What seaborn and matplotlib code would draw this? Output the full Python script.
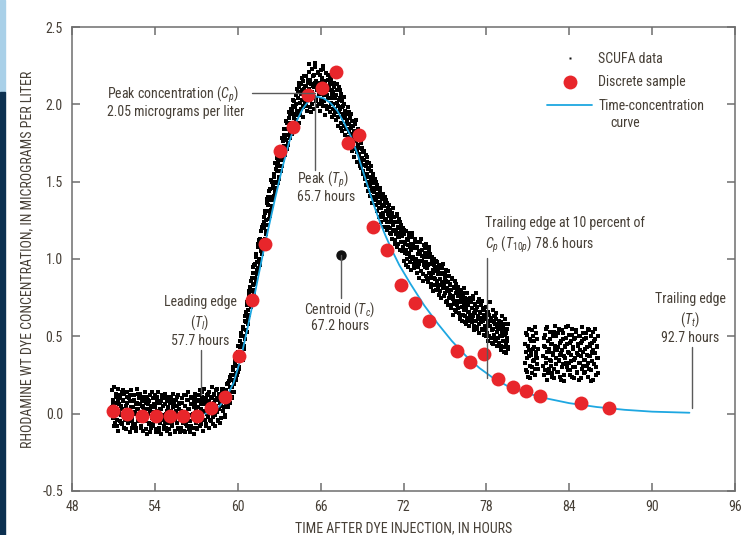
import numpy as np
import pandas as pd
import matplotlib
matplotlib.use("Agg")
import matplotlib.pyplot as plt
from matplotlib import font_manager
from matplotlib.patches import Rectangle
from matplotlib.lines import Line2D
import seaborn as sns

# ---------------- data ----------------
# SCUFA continuous record, concentrations in hundredths of ug/L, regular 0.05-h sampling,
# two interleaved readings (a and b, offset by 0.025 h)
scufa_step = 0.05
scufa_start_1a = 50.90
scufa_vals_1a = [
    15, -3, 6, 17, -6, 3, 11, -8, 8, 16, 0, 12, -5, 5, 14, -7, 9, 2, 13, -4,
    -10, 7, 14, 1, -4, 10, -12, 4, 15, -2, 8, -7, 12, 0, -9, 6, 16, -5, 3, 10,
    -1, 13, -8, 5, 9, -11, 2, 14, -5, 7, -13, 11, 0, -6, 8, 12, -9, 4, -2, 10,
    -7, 6, 12, -12, 1, 9, -4, 14, -9, 3, 7, -13, 10, -2, 5, -10, 13, -6, 0, 8,
    -11, 4, -5, 11, -13, 2, 8, -8, 13, -3, 6, -12, 0, 9, -6, 12, -10, 3, -1, 7,
    -9, 10, -4, 1, 12, -12, 5, -7, 9, -2, 14, -10, 3, -5, 11, -8, 6, 0, -13, 8,
    13, -6, 4, -10, 9, 1, -3, 15, -8, 6, 11, -11, 2, 16, -4, 8, -7, 12, 0, 5,
    -9, 14, 3, -5, 10, 17, -2, 7, 12, -8, 4, 15, 1, -4, 9, 13, -6, 11, 5, 16,
    2, 16, 8, -2, 14, 5, 19, 10, 4, 21, 13, 7, 25, 17, 11, 28, 20, 14, 33, 26,
    22, 38, 27, 44, 30, 47, 36, 52, 40, 35, 55, 44, 60, 48, 66, 53, 72, 58, 77, 64,
    82, 69, 88, 74, 95, 80, 78, 97, 86, 103, 90, 108, 94, 112, 99, 105, 118, 103, 122, 110,
    127, 113, 131, 118, 136, 122, 140, 126, 128, 145, 132, 150, 134, 148, 141, 155, 143, 158, 146, 161,
    149, 165, 153, 168, 157, 172, 160, 176, 164, 180, 178, 167, 184, 171, 188, 175, 191, 178, 194, 181,
    196, 181, 199, 184, 202, 187, 206, 190, 193, 208, 188, 211, 195, 213, 197, 209, 192, 215, 199, 212,
    201, 218, 196, 214, 203, 221, 198, 216, 206, 223, 200, 212, 219, 197, 224, 204, 215, 199, 220, 207,
    214, 196, 222, 203, 217, 199, 225, 206, 193, 215, 210, 197, 219, 204, 212, 195, 218, 201, 209, 192,
    208, 193, 214, 197, 190, 209, 201, 186, 211, 195, 204, 188, 207, 183, 199, 191, 205, 180, 196, 187,
    194, 179, 198, 182, 173, 191, 185, 170, 189, 176, 183, 166, 187, 172, 180, 163, 184, 168, 177, 160,
    175, 159, 172, 155, 169, 161, 152, 167, 148, 163, 158, 144, 162, 150, 141, 157, 146, 136, 153, 143,
    138, 152, 135, 148, 131, 145, 140, 127, 143, 133, 124, 139, 130, 142, 121, 136, 126, 138, 119, 133,
    121, 135, 117, 131, 124, 113, 130, 119, 127, 110, 124, 116, 129, 108, 121, 114, 126, 106, 118, 122,
    105, 120, 99, 116, 110, 96, 118, 103, 112, 95, 114, 101, 108, 93, 117, 100, 110, 94, 113, 98,
    107, 91, 111, 97, 88, 105, 99, 113, 92, 102, 86, 109, 96, 104, 89, 110, 94, 101, 85, 106,
    88, 103, 82, 99, 91, 79, 100, 87, 95, 80, 98, 84, 92, 77, 96, 83, 90, 75, 94, 81,
    91, 76, 88, 72, 93, 80, 85, 70, 89, 77, 83, 68, 87, 74, 64, 82, 71, 86, 66, 79,
    70, 82, 65, 77, 61, 80, 72, 60, 76, 67, 81, 63, 73, 58, 78, 66, 71, 57, 75, 64,
    72, 59, 76, 63, 54, 71, 66, 78, 56, 69, 61, 74, 52, 65, 70, 55, 73, 60, 51, 67,
    64, 50, 69, 57, 47, 66, 60, 72, 49, 62, 54, 67, 45, 59, 63, 48, 65, 53, 44, 58,
    60, 46, 55, 41, 63, 50, 57, 43, 54, 61, 39, 52, 47, 58, 42,
]
scufa_start_1b = 50.925
scufa_vals_1b = [
    4, 9, -2, -8, 1, 13, 7, -4, -11, 2, 6, 10, -1, -6, 3, 15, 8, -9, -3, 1,
    5, 11, -6, -1, 2, 8, 12, -3, -9, -5, 4, 9, 1, -7, -11, 3, 7, 13, 0, -4,
    6, -3, -9, 1, 4, 11, 8, -5, -10, -1, 3, 9, 6, -7, -12, 2, 5, 14, -3, -8,
    1, 4, -5, -10, 2, 11, 7, -2, -12, -6, 3, 8, 12, -1, -8, -4, 6, 10, -9, 2,
    3, -6, -10, 1, 7, 10, -2, -7, 4, 9, -11, -4, 2, 11, 5, -9, -1, 6, -12, 0,
    2, 7, -6, -11, 0, 5, 12, -3, -8, 3, 9, -1, -12, -5, 6, 10, -2, -9, 4, 11,
    7, 2, -5, -9, 4, 12, 8, -2, -7, 3, 14, 9, -4, 1, 6, -8, 10, 4, -2, 13,
    8, 3, -4, 11, 6, -7, 2, 13, 9, -1, 5, 16, 10, -5, 3, 12, 7, -3, 14, 8,
    11, 4, 13, -1, 9, 15, 6, 12, 20, 8, 17, 24, 14, 10, 22, 30, 19, 25, 35, 23,
    31, 25, 40, 34, 29, 43, 50, 38, 45, 56, 42, 50, 63, 54, 59, 70, 61, 67, 79, 73,
    79, 86, 72, 91, 83, 96, 88, 84, 101, 93, 98, 110, 100, 96, 113, 107, 121, 112, 109, 124,
    120, 130, 125, 116, 139, 131, 135, 144, 129, 138, 151, 140, 146, 138, 153, 149, 162, 150, 157, 165,
    163, 152, 160, 171, 164, 169, 178, 166, 173, 184, 170, 177, 189, 180, 174, 186, 195, 183, 188, 197,
    186, 194, 203, 191, 198, 185, 200, 210, 196, 204, 214, 201, 193, 207, 217, 203, 198, 210, 218, 204,
    212, 199, 207, 216, 226, 210, 203, 213, 195, 208, 218, 205, 211, 227, 214, 202, 209, 221, 213, 200,
    207, 219, 211, 200, 215, 223, 208, 202, 212, 220, 199, 206, 216, 209, 198, 213, 204, 216, 207, 197,
    200, 211, 204, 195, 206, 213, 199, 192, 203, 197, 209, 185, 198, 202, 194, 186, 200, 192, 184, 195,
    190, 184, 195, 187, 178, 181, 194, 175, 186, 179, 171, 182, 176, 190, 169, 177, 174, 181, 165, 172,
    163, 171, 165, 157, 164, 170, 153, 160, 155, 166, 150, 159, 153, 147, 160, 151, 144, 149, 155, 140,
    146, 139, 150, 142, 136, 141, 133, 146, 137, 129, 141, 135, 127, 134, 140, 125, 131, 136, 124, 129,
    128, 132, 120, 125, 116, 127, 122, 133, 118, 112, 124, 119, 128, 115, 110, 120, 117, 124, 111, 116,
    115, 108, 119, 104, 111, 106, 113, 100, 109, 117, 104, 98, 110, 106, 114, 101, 97, 107, 111, 99,
    100, 108, 95, 103, 97, 111, 104, 92, 99, 106, 90, 101, 95, 107, 98, 87, 103, 96, 108, 91,
    97, 90, 84, 101, 93, 88, 96, 83, 92, 99, 86, 90, 81, 95, 87, 79, 91, 85, 97, 82,
    84, 90, 78, 86, 73, 81, 92, 79, 75, 84, 70, 80, 88, 76, 72, 81, 67, 78, 84, 73,
    76, 68, 79, 72, 63, 74, 69, 78, 64, 71, 59, 75, 68, 62, 74, 70, 60, 66, 73, 62,
    68, 62, 74, 57, 65, 70, 60, 67, 55, 72, 63, 58, 66, 71, 59, 62, 54, 68, 64, 57,
    61, 55, 66, 52, 59, 64, 50, 57, 62, 46, 60, 55, 63, 51, 58, 47, 61, 56, 49, 55,
    57, 50, 44, 59, 53, 47, 56, 40, 51, 58, 45, 49, 55, 43,
]
scufa_start_2a = 80.80
scufa_vals_2a = [45, 28, 52, 36, 24, 41, 55, 31, 47, 38, 26, 50, 34, 43, 29, 56, 37, 48, 32, 42]
scufa_start_2b = 80.825
scufa_vals_2b = [33, 40, 51, 27, 44, 37, 23, 48, 39, 54, 30, 42, 35, 47, 25, 40, 52, 36, 29]
scufa_start_3a = 82.10
scufa_vals_3a = [
    31, 49, 25, 43, 55, 36, 22, 47, 40, 29, 53, 34, 45, 26, 50, 38, 23, 44, 57, 32,
    41, 27, 52, 35, 46, 24, 39, 54, 30, 48, 37, 21, 43, 56, 33, 45, 28, 51, 39, 25,
    47, 34, 55, 30, 42, 23, 49, 36, 53, 27, 44, 38, 22, 50, 33, 46, 29, 56, 40, 26,
    48, 35, 52, 31, 43, 24, 54, 37, 45, 28, 50, 34, 41, 22, 47, 39, 55, 30, 44, 26, 36,
]
scufa_start_3b = 82.125
scufa_vals_3b = [
    37, 44, 28, 51, 33, 40, 56, 26, 42, 35, 48, 31, 24, 45, 39, 53, 29, 41, 36, 50,
    27, 43, 55, 34, 38, 22, 47, 41, 32, 52, 25, 44, 36, 49, 30, 40, 57, 33, 46, 28,
    38, 51, 24, 43, 35, 48, 30, 54, 39, 26, 45, 33, 50, 41, 23, 37, 47, 31, 52, 35,
    42, 27, 49, 38, 33, 55, 29, 44, 37, 21, 46, 40, 53, 32, 39, 48, 25, 43, 36, 50,
]

# Discrete samples (hours, ug/L)
sample_time = [51.0, 52.0, 53.05, 54.06, 55.1, 56.06, 57.07, 58.07, 59.1, 60.1, 61.05,
               61.98, 63.06, 64.0, 65.1, 66.08, 67.1, 68.0, 68.8, 69.8, 70.83, 71.8,
               72.8, 73.85, 75.86, 76.8, 77.86, 78.83, 79.9, 80.85, 81.9, 84.86, 86.9]
sample_conc = [0.02, 0.0, -0.013, -0.013, -0.013, -0.013, -0.013, 0.035, 0.11, 0.373, 0.735,
               1.10, 1.70, 1.855, 2.06, 2.107, 2.207, 1.748, 1.80, 1.209, 1.058, 0.832,
               0.713, 0.601, 0.404, 0.332, 0.385, 0.222, 0.175, 0.149, 0.115, 0.072, 0.039]

# Fitted time-concentration curve
curve_time = [57.65, 58.2, 58.7, 59.2, 59.7, 60.2, 60.7, 61.2, 61.7, 62.2, 62.7, 63.2, 63.7,
              64.2, 64.7, 65.2, 65.7, 66.2, 66.7, 67.2, 67.7, 68.2, 68.7, 69.2, 69.7, 70.2,
              70.7, 71.2, 71.7, 72.5, 73.5, 74.5, 75.5, 76.5, 77.5, 78.5, 79.5, 80.5, 82.0,
              84.0, 86.0, 88.0, 90.0, 92.7]
curve_conc = [0.0, 0.012, 0.05, 0.11, 0.20, 0.35, 0.55, 0.76, 0.98, 1.19, 1.39, 1.58, 1.75,
              1.88, 1.97, 2.03, 2.05, 2.04, 2.01, 1.96, 1.88, 1.79, 1.67, 1.53, 1.39, 1.26,
              1.15, 1.05, 0.96, 0.84, 0.70, 0.58, 0.47, 0.375, 0.295, 0.23, 0.18, 0.145, 0.105,
              0.068, 0.043, 0.025, 0.013, 0.006]

centroid_time = 67.46
centroid_conc = 1.026

x_ticks = [48, 54, 60, 66, 72, 78, 84, 90, 96]
y_ticks = [-0.5, 0.0, 0.5, 1.0, 1.5, 2.0, 2.5]
x_label = "TIME AFTER DYE INJECTION, IN HOURS"
y_label = "RHODAMINE WT DYE CONCENTRATION, IN MICROGRAMS PER LITER"

# ---------------- build tables ----------------
frames = []
for start, vals in [(scufa_start_1a, scufa_vals_1a), (scufa_start_1b, scufa_vals_1b),
                    (scufa_start_2a, scufa_vals_2a), (scufa_start_2b, scufa_vals_2b),
                    (scufa_start_3a, scufa_vals_3a), (scufa_start_3b, scufa_vals_3b)]:
    frames.append(pd.DataFrame({"time": start + scufa_step * np.arange(len(vals)),
                                "conc": np.array(vals) / 100.0}))
scufa = pd.concat(frames, ignore_index=True)
samples = pd.DataFrame({"time": sample_time, "conc": sample_conc})
curve = pd.DataFrame({"time": curve_time, "conc": curve_conc})

# ---------------- style ----------------
sns.set_theme(style="ticks")
avail = {f.name for f in font_manager.fontManager.ttflist}
font = next((f for f in ["Liberation Sans Narrow", "Roboto Condensed", "Open Sans Condensed",
                         "Roboto", "Liberation Sans"] if f in avail), "DejaVu Sans")
plt.rcParams["font.family"] = [font, "DejaVu Sans"]
plt.rcParams["mathtext.fontset"] = "custom"
plt.rcParams["mathtext.rm"] = font
plt.rcParams["mathtext.it"] = font + ":italic"

TXT = "#463f36"
RED = "#e8262b"
BLUE = "#1ea7e1"
SPINE = "#6e6e6e"
LEAD = "#5a5a5a"
FS = 10

fig = plt.figure(figsize=(7.54, 5.35), dpi=100)
fig.patch.set_facecolor("white")
fig.patches.append(Rectangle((0, 1 - 92 / 535), 5 / 754, 92 / 535, transform=fig.transFigure,
                             color="#a9d0e8", zorder=0))
fig.patches.append(Rectangle((0, 0), 5 / 754, 1 - 92 / 535, transform=fig.transFigure,
                             color="#0c3050", zorder=0))
ax = fig.add_axes([72 / 754, 1 - 491 / 535, 663 / 754, 464 / 535])
ax.set_facecolor("white")

sns.scatterplot(data=scufa, x="time", y="conc", marker="s", s=6, color="#000000",
                linewidth=0, ax=ax, zorder=2, legend=False)
sns.lineplot(data=curve, x="time", y="conc", color=BLUE, lw=1.3, ax=ax, zorder=3,
             legend=False, sort=False)
sns.scatterplot(data=samples, x="time", y="conc", marker="o", s=100, color=RED,
                linewidth=0, ax=ax, zorder=4, legend=False)
ax.scatter([centroid_time], [centroid_conc], s=42, color="#111111", zorder=4)

# ---------------- axes ----------------
ax.set_xlim(48, 96)
ax.set_ylim(-0.5, 2.5)
ax.set_xticks(x_ticks)
ax.set_xticklabels([str(v) for v in x_ticks])
ax.set_yticks(y_ticks)
ax.set_yticklabels([f"{v:.1f}" for v in y_ticks])
ax.tick_params(direction="in", top=True, right=True, length=5.8, width=1.1, color=SPINE,
               labelsize=FS, labelcolor=TXT, pad=6.5)
for sp in ax.spines.values():
    sp.set_visible(True)
    sp.set_color(SPINE)
    sp.set_linewidth(1.1)
ax.set_xlabel(x_label, fontsize=FS, color=TXT, labelpad=5)
ax.set_ylabel(y_label, fontsize=FS, color=TXT, labelpad=6)

# ---------------- annotations ----------------
lk = dict(color=LEAD, lw=1.0, zorder=5)
tk = dict(fontsize=FS, color=TXT, va="center", zorder=6)
# peak concentration
ax.plot([61.01, 65.6], [2.075, 2.075], **lk)
ax.text(50.53, 2.06, r"Peak concentration ($\mathit{C}_p$)", ha="left", **tk)
ax.text(50.53, 1.95, "2.05 micrograms per liter", ha="left", **tk)
# peak time
ax.plot([65.6, 65.6], [2.06, 1.575], **lk)
ax.text(64.27, 1.511, r"Peak ($\mathit{T}_p$)", ha="left", **tk)
ax.text(64.27, 1.401, "65.7 hours", ha="left", **tk)
# centroid
ax.plot([centroid_time, centroid_time], [centroid_conc, 0.748], **lk)
ax.text(67.4, 0.670, r"Centroid ($\mathit{T}_c$)", ha="center", **tk)
ax.text(67.4, 0.567, "67.2 hours", ha="center", **tk)
# leading edge
ax.plot([57.37, 57.37], [0.412, 0.121], **lk)
ax.text(57.27, 0.722, "Leading edge", ha="center", **tk)
ax.text(57.27, 0.586, r"($\mathit{T}_l$)", ha="center", **tk)
ax.text(57.27, 0.470, "57.7 hours", ha="center", **tk)
# trailing edge at 10 percent
ax.plot([78.07, 78.07], [1.006, 0.231], **lk)
ax.text(77.9, 1.233, "Trailing edge at 10 percent of", ha="left", **tk)
ax.text(77.9, 1.090, r"$\mathit{C}_p$ ($\mathit{T}_{10p}$) 78.6 hours", ha="left", **tk)
# trailing edge
ax.plot([92.9, 92.9], [0.431, 0.037], **lk)
ax.text(92.75, 0.741, "Trailing edge", ha="center", **tk)
ax.text(92.75, 0.606, r"($\mathit{T}_t$)", ha="center", **tk)
ax.text(92.75, 0.489, "92.7 hours", ha="center", **tk)

# ---------------- legend ----------------
handles = [Line2D([], [], ls="none", marker="s", ms=2.0, color="#111111", mec="none"),
           Line2D([], [], ls="none", marker="o", ms=10, color=RED, mec="none"),
           Line2D([], [], color=BLUE, lw=1.3)]
leg = ax.legend(handles, ["SCUFA data", "Discrete sample", "Time-concentration"],
                loc="upper left", bbox_to_anchor=((547 - 72) / 663, 1 - (52 - 27) / 464),
                frameon=False, borderpad=0, borderaxespad=0, handlelength=3.25,
                handletextpad=0.45, labelspacing=0.68, fontsize=FS)
for t in leg.get_texts():
    t.set_color(TXT)
ax.text(86.96, 1.879, "curve", ha="left", **tk)

fig.savefig("out.png", dpi=100)
